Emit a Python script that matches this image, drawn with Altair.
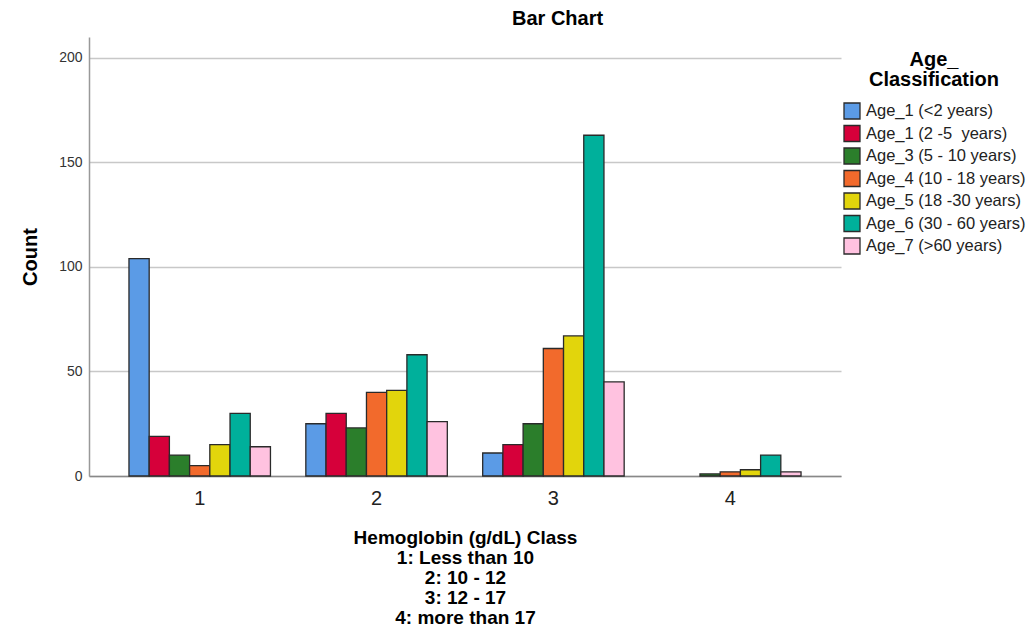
import altair as alt
import pandas as pd

hb_classes = ["1", "2", "3", "4"]
age_groups = [
    "Age_1 (<2 years)",
    "Age_1 (2 -5 \u00a0years)",
    "Age_3 (5 - 10 years)",
    "Age_4 (10 - 18 years)",
    "Age_5 (18 -30 years)",
    "Age_6 (30 - 60 years)",
    "Age_7 (>60 years)",
]
counts_age1 = [104, 25, 11, 0]
counts_age2 = [19, 30, 15, 0]
counts_age3 = [10, 23, 25, 1]
counts_age4 = [5, 40, 61, 2]
counts_age5 = [15, 41, 67, 3]
counts_age6 = [30, 58, 163, 10]
counts_age7 = [14, 26, 45, 2]
colors = ["#5B9BE6", "#D6003A", "#2B7E2B", "#F26A2C", "#E2D50C", "#00B09B", "#FFC2E0"]

series = [counts_age1, counts_age2, counts_age3, counts_age4,
          counts_age5, counts_age6, counts_age7]
rows = []
for age, vals in zip(age_groups, series):
    for hb, v in zip(hb_classes, vals):
        rows.append({"hb": hb, "age": age, "count": v})
df = pd.DataFrame(rows)

x_title = ["Hemoglobin (g/dL) Class", "1: Less than 10", "2: 10 - 12",
           "3: 12 - 17", "4: more than 17"]

chart = alt.Chart(df).transform_filter(
    "datum.count > 0"
).mark_bar(stroke="#2a2a2a", strokeWidth=1.3).encode(
    x=alt.X("hb:N", sort=hb_classes,
            scale=alt.Scale(domain=hb_classes, paddingInner=0.2, paddingOuter=0.226),
            axis=alt.Axis(title=x_title, labelAngle=0, labelFontSize=20,
                          labelColor="#222222", labelPadding=12, ticks=False,
                          domainColor="#888888", domainWidth=1.5,
                          titleFontSize=19, titleFontWeight="bold",
                          titleLineHeight=20, titlePadding=20,
                          titleColor="#000000")),
    xOffset=alt.XOffset("age:N", sort=age_groups,
                        scale=alt.Scale(domain=age_groups, paddingInner=0, paddingOuter=0)),
    y=alt.Y("count:Q", scale=alt.Scale(domain=[0, 210], nice=False),
            axis=alt.Axis(title="Count", values=[0, 50, 100, 150, 200],
                          labelFontSize=14, labelColor="#333333",
                          labelPadding=7, ticks=False,
                          domainColor="#999999", domainWidth=1.5,
                          gridColor="#C8C8C8", gridWidth=1.3,
                          titleFontSize=20, titleFontWeight="bold",
                          titlePadding=18, titleColor="#000000")),
    color=alt.Color("age:N", sort=age_groups,
                    scale=alt.Scale(domain=age_groups, range=colors),
                    legend=alt.Legend(title=["Age_", "Classification"],
                                      orient="none", legendX=754, legendY=13,
                                      titleFontSize=20, titleFontWeight="bold",
                                      titleLineHeight=20, titleAlign="center",
                                      titleAnchor="middle", titlePadding=12,
                                      titleColor="#000000",
                                      labelFontSize=16.5, labelColor="#222222",
                                      labelOffset=5, symbolType="square",
                                      symbolSize=256, symbolStrokeColor="#2a2a2a",
                                      symbolStrokeWidth=1.3, rowPadding=0.5)),
).properties(
    width=752,
    height=439,
    title=alt.TitleParams("Bar Chart", fontSize=20, fontWeight="bold",
                          anchor="start", frame="group", dx=423, offset=8,
                          color="#000000"),
    autosize=alt.AutoSizeParams(type="none"),
    padding={"left": 81, "top": 29, "right": 185, "bottom": 150},
).configure(
    font="Liberation Sans",
).configure_view(
    stroke=None,
)

chart.save("out.html", embed_options={"renderer": "svg", "actions": False})
